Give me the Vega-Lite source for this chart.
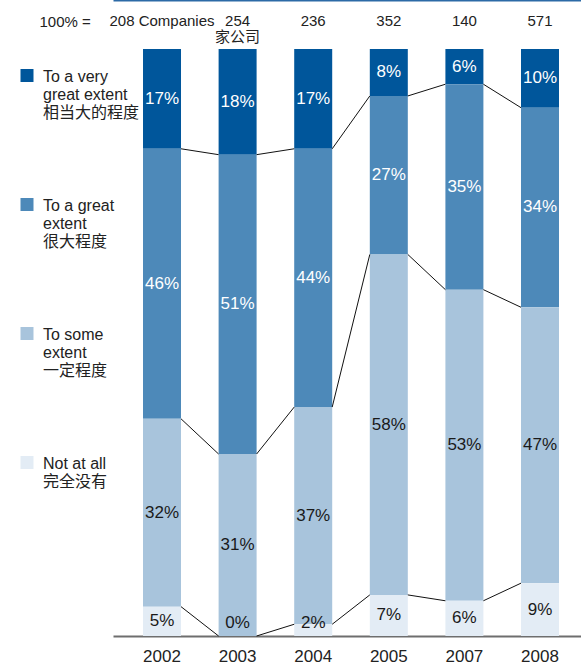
{
  "$schema": "https://vega.github.io/schema/vega-lite/v6.json",
  "width": 468,
  "height": 587,
  "padding": {"left": 19, "top": 0, "right": 0, "bottom": 0},
  "autosize": {"type": "pad"},
  "background": "white",
  "config": {"view": {"stroke": null}, "font": "Liberation Sans, Noto Sans CJK SC"},
  "data": {
    "values": [
      {"year": "2002", "cat": "To a very great extent", "value": 17},
      {"year": "2002", "cat": "To a great extent", "value": 46},
      {"year": "2002", "cat": "To some extent", "value": 32},
      {"year": "2002", "cat": "Not at all", "value": 5},
      {"year": "2003", "cat": "To a very great extent", "value": 18},
      {"year": "2003", "cat": "To a great extent", "value": 51},
      {"year": "2003", "cat": "To some extent", "value": 31},
      {"year": "2003", "cat": "Not at all", "value": 0},
      {"year": "2004", "cat": "To a very great extent", "value": 17},
      {"year": "2004", "cat": "To a great extent", "value": 44},
      {"year": "2004", "cat": "To some extent", "value": 37},
      {"year": "2004", "cat": "Not at all", "value": 2},
      {"year": "2005", "cat": "To a very great extent", "value": 8},
      {"year": "2005", "cat": "To a great extent", "value": 27},
      {"year": "2005", "cat": "To some extent", "value": 58},
      {"year": "2005", "cat": "Not at all", "value": 7},
      {"year": "2007", "cat": "To a very great extent", "value": 6},
      {"year": "2007", "cat": "To a great extent", "value": 35},
      {"year": "2007", "cat": "To some extent", "value": 53},
      {"year": "2007", "cat": "Not at all", "value": 6},
      {"year": "2008", "cat": "To a very great extent", "value": 10},
      {"year": "2008", "cat": "To a great extent", "value": 34},
      {"year": "2008", "cat": "To some extent", "value": 47},
      {"year": "2008", "cat": "Not at all", "value": 9}
    ]
  },
  "transform": [
    {"calculate": "indexof(['Not at all','To some extent','To a great extent','To a very great extent'], datum.cat)", "as": "order"},
    {"stack": "value", "groupby": ["year"], "sort": [{"field": "order", "order": "ascending"}], "as": ["y0", "y1"]}
  ],
  "layer": [
    {
      "mark": {"type": "bar"},
      "encoding": {
        "x": {
          "field": "year", "type": "ordinal", "sort": null,
          "scale": {"paddingInner": 0.4974, "paddingOuter": 0.344, "align": 0.577},
          "axis": {
            "orient": "bottom", "title": null, "ticks": false,
            "domainColor": "#6e6e6e", "domainWidth": 2,
            "labelFontSize": 17, "labelColor": "#222222", "labelPadding": 12, "labelAngle": 0
          }
        },
        "y": {"field": "y0", "type": "quantitative", "scale": {"domain": [0, 100], "nice": false, "zero": false}, "axis": null},
        "y2": {"field": "y1"},
        "color": {
          "field": "cat", "type": "nominal",
          "scale": {
            "domain": ["To a very great extent", "To a great extent", "To some extent", "Not at all"],
            "range": ["#00569b", "#4d89b9", "#a8c4dc", "#e3ecf5"]
          },
          "legend": {
            "title": null, "orient": "none", "legendX": -94, "legendY": 12, "direction": "vertical",
            "symbolType": "M -1 0 H 1 V 2 H -1 Z", "symbolSize": 169, "symbolStrokeWidth": 0, "symbolOpacity": 1,
            "labelExpr": "datum.label == 'To a very great extent' ? ['To a very', 'great extent', '相当大的程度'] : datum.label == 'To a great extent' ? ['To a great', 'extent', '很大程度'] : datum.label == 'To some extent' ? ['To some', 'extent', '一定程度'] : ['Not at all', '完全没有']",
            "labelFontSize": 16, "labelLineHeight": 21, "labelBaseline": "top", "labelColor": "#222222",
            "labelOffset": 8, "rowPadding": 69, "padding": 0, "labelLimit": 200
          }
        }
      }
    },
    {
      "transform": [
        {"window": [{"op": "lead", "field": "y1", "as": "ny1"}, {"op": "lead", "field": "year", "as": "nyear"}], "groupby": ["cat"], "sort": [{"field": "year", "order": "ascending"}]},
        {"filter": "datum.nyear != null && datum.cat != 'To a very great extent'"}
      ],
      "mark": {"type": "rule", "color": "#111111", "strokeWidth": 1},
      "encoding": {
        "x": {"field": "year", "type": "ordinal", "sort": null, "bandPosition": 1, "axis": null},
        "x2": {"field": "nyear", "bandPosition": 0},
        "y": {"field": "y1", "type": "quantitative"},
        "y2": {"field": "ny1"}
      }
    },
    {
      "transform": [
        {"calculate": "max((datum.y0 + datum.y1) / 2, 2.2)", "as": "mid"},
        {"calculate": "datum.value + '%'", "as": "lab"}
      ],
      "mark": {"type": "text", "fontSize": 17, "baseline": "middle"},
      "encoding": {
        "x": {
          "field": "year", "type": "ordinal", "sort": null,
          "axis": {
            "orient": "top", "offset": 49, "title": "100% =",
            "titleX": -74, "titleY": 14, "titleAlign": "left", "titleBaseline": "top", "titleAngle": 0,
            "titleFontSize": 15, "titleFontWeight": "normal", "titleColor": "#222222",
            "ticks": false, "domain": true, "domainColor": "#2c6aa6", "domainWidth": 2,
            "labelExpr": "datum.value == '2002' ? '208 Companies' : datum.value == '2003' ? ['254', '家公司'] : datum.value == '2004' ? '236' : datum.value == '2005' ? '352' : datum.value == '2007' ? '140' : '571'",
            "labelFontSize": 15, "labelColor": "#222222", "labelBaseline": "top", "labelPadding": -13,
            "labelLineHeight": 16, "labelOverlap": false, "labelBound": false, "labelFlush": false, "labelAngle": 0
          }
        },
        "y": {"field": "mid", "type": "quantitative"},
        "text": {"field": "lab"},
        "color": {"condition": {"test": "datum.order >= 2", "value": "white"}, "value": "#1a1a1a"}
      }
    }
  ],
  "resolve": {"axis": {"x": "independent"}}
}
